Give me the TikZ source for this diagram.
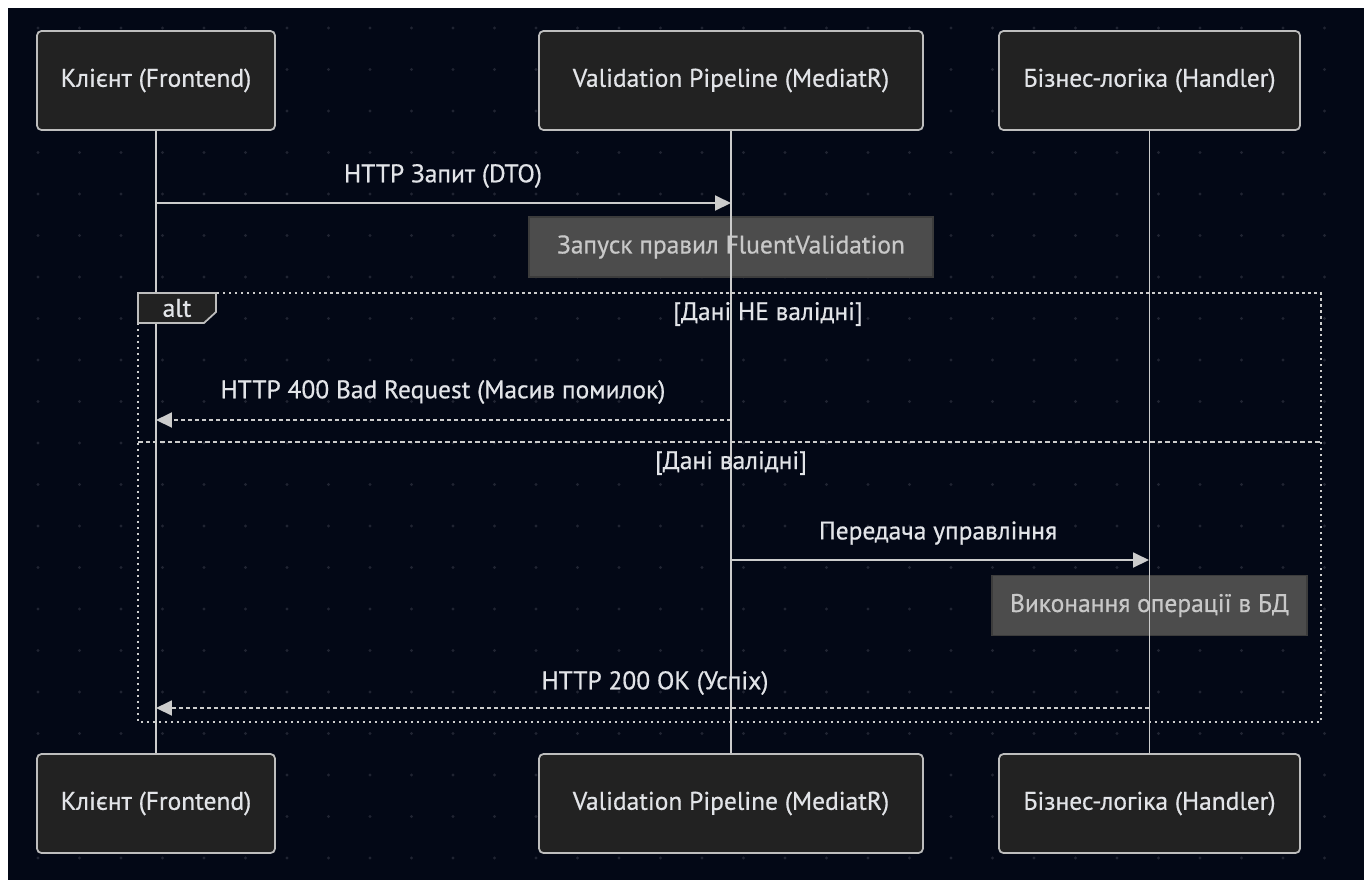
\documentclass[tikz,border=0pt]{standalone}
\usepackage{fontspec}
\setmainfont{PT Sans}[BoldFont={PT Sans},BoldFeatures={FakeBold=0.6}]
\usetikzlibrary{arrows.meta}

\definecolor{bgnavy}{RGB}{3,8,22}
\definecolor{griddot}{RGB}{32,36,50}
\definecolor{boxfill}{RGB}{34,34,34}
\definecolor{boxline}{RGB}{190,190,190}
\definecolor{linegray}{RGB}{204,204,204}
\definecolor{labeltext}{RGB}{226,228,232}
\definecolor{notefill}{RGB}{76,76,76}
\definecolor{noteline}{RGB}{60,60,60}
\definecolor{notetext}{RGB}{200,200,200}

\begin{document}
\begin{tikzpicture}[x=0.02cm,y=-0.02cm,
  actor/.style={draw=boxline,fill=boxfill,rounded corners=2.5pt,line width=1pt,
    minimum height=1.98cm,text=labeltext,font=\fontsize{14.5}{17}\selectfont\bfseries},
  note/.style={draw=noteline,fill=notefill,line width=0.8pt,minimum height=1.2cm,
    text=notetext,font=\fontsize{14.5}{17}\selectfont\bfseries},
  msg/.style={text=labeltext,font=\fontsize{14.5}{17}\selectfont\bfseries},
  life/.style={draw=linegray,line width=1.1pt},
  call/.style={draw=linegray,line width=1.1pt,-{Triangle[length=0.32cm,width=0.3cm]}},
  reply/.style={call,dash pattern=on 0.08cm off 0.06cm},
  frame/.style={draw=linegray,line width=1.1pt,dash pattern=on 0.045cm off 0.075cm},
  split/.style={draw=linegray,line width=1.1pt,dash pattern=on 0.09cm off 0.06cm}]

\useasboundingbox (0,0) rectangle (1369,880);
\fill[white] (0,0) rectangle (1369,880);
\fill[bgnavy] (8,8) rectangle (1364,880);
\begin{scope}
\clip (8,8) rectangle (1364,880);
\foreach \i in {0,...,32}
  \foreach \j in {0,...,20}
    \fill[griddot] (38+41.5*\i,28+41.5*\j) circle (1.6);
\end{scope}

\node[actor,minimum width=4.76cm] (client) at (156,80.5) {Клієнт (Frontend)};
\node[actor,minimum width=7.68cm] (pipe) at (731,80.5) {Validation Pipeline (MediatR)};
\node[actor,minimum width=6.02cm] (handler) at (1149.5,80.5) {Бізнес-логіка (Handler)};
\node[actor,minimum width=4.76cm] (client2) at (156,803.5) {Клієнт (Frontend)};
\node[actor,minimum width=7.68cm] (pipe2) at (731,803.5) {Validation Pipeline (MediatR)};
\node[actor,minimum width=6.02cm] (handler2) at (1149.5,803.5) {Бізнес-логіка (Handler)};

\node[note,minimum width=8.08cm] (rules) at (731,247) {Запуск правил FluentValidation};
\node[note,minimum width=6.3cm] (dbop) at (1149.5,605.5) {Виконання операції в БД};

\draw[life] (client.south) -- (client2.north);
\draw[life] (pipe.south) -- (pipe2.north);
\draw[life] (handler.south) -- (handler2.north);

\coordinate (frametl) at (138,293);
\coordinate (framebr) at (1321,722);
\coordinate (splitl) at (138,442);
\coordinate (splitr) at (1321,442);
\draw[frame] (frametl) rectangle (framebr);
\draw[split] (splitl) -- (splitr);
\draw[draw=boxline,fill=boxfill,line width=1pt] (138,293) -- (216,293) -- (216,312)
  -- (204,323) -- (138,323) -- cycle;
\node[msg] (alt) at (177,308) {alt};
\node[msg] (bad) at (768,314) {[Дані НЕ валідні]};
\node[msg] (good) at (731,463) {[Дані валідні]};

\coordinate (c1) at (156,203);
\coordinate (p1) at (731,203);
\coordinate (p2) at (731,420);
\coordinate (c2) at (156,420);
\coordinate (p3) at (731,560);
\coordinate (h3) at (1149,560);
\coordinate (h4) at (1149,708);
\coordinate (c4) at (156,708);

\draw[call] (c1) -- (p1);
\node[msg] (m1) at (443,176) {HTTP Запит (DTO)};
\draw[reply] (p2) -- (c2);
\node[msg] (m2) at (443,392) {HTTP 400 Bad Request (Масив помилок)};
\draw[call] (p3) -- (h3);
\node[msg] (m3) at (938,533) {Передача управління};
\draw[reply] (h4) -- (c4);
\node[msg] (m4) at (655,683) {HTTP 200 OK (Успіх)};
\end{tikzpicture}
\end{document}
